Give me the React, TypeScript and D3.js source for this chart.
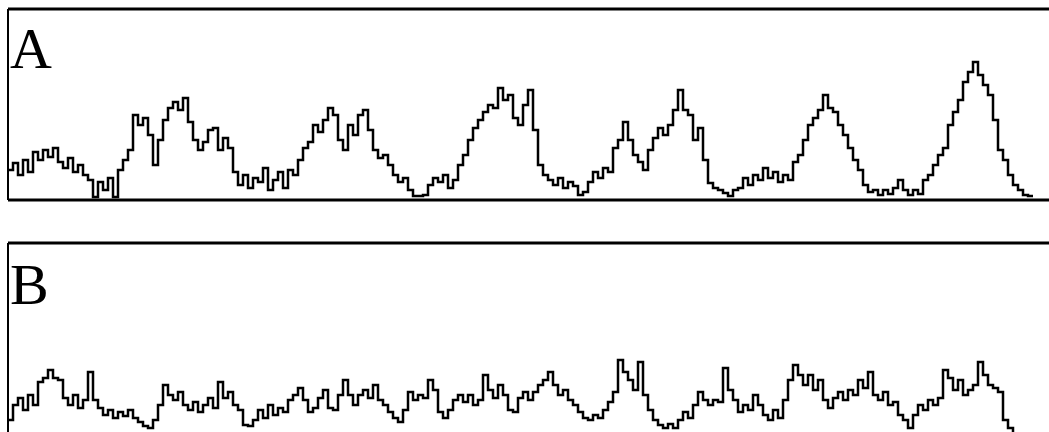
import { useEffect, useRef } from 'react';
import * as d3 from 'd3';

// trace heights above each panel's baseline, one sample per 5px bin
const traceA = [
  28, 35, 23, 38, 26, 46, 38, 48, 41, 50, 36, 30, 40, 26, 33, 23, 18, 1, 16, 8,
  20, 1, 28, 38, 48, 83, 73, 80, 63, 33, 58, 78, 90, 96, 88, 100, 76, 58, 48, 56,
  68, 70, 48, 60, 50, 26, 13, 23, 10, 20, 16, 30, 8, 18, 26, 10, 28, 23, 38, 50,
  56, 73, 66, 78, 90, 83, 58, 48, 73, 63, 83, 88, 68, 48, 40, 43, 33, 23, 16, 20,
  8, 2, 2, 3, 13, 20, 16, 23, 10, 18, 33, 43, 58, 70, 78, 86, 93, 90, 110, 98,
  103, 80, 73, 93, 108, 68, 33, 23, 18, 13, 20, 10, 16, 12, 3, 6, 16, 26, 20, 30,
  26, 50, 58, 76, 58, 43, 36, 28, 48, 60, 70, 63, 73, 88, 108, 88, 83, 58, 70, 38,
  15, 10, 8, 5, 2, 8, 10, 20, 13, 23, 18, 30, 20, 26, 16, 23, 18, 36, 43, 58,
  73, 80, 88, 103, 90, 86, 73, 63, 50, 38, 28, 13, 6, 8, 3, 8, 4, 10, 18, 8,
  3, 8, 4, 18, 23, 33, 43, 50, 73, 86, 98, 116, 126, 136, 123, 113, 103, 78, 48, 38,
  23, 13, 8, 3, 2, 2,
];

const traceB = [
  12, 27, 34, 22, 37, 27, 50, 54, 62, 54, 52, 34, 27, 37, 24, 32, 60, 32, 24, 17,
  22, 14, 20, 16, 22, 14, 10, 6, 4, 12, 27, 47, 37, 32, 40, 27, 22, 30, 20, 27,
  34, 24, 50, 34, 40, 27, 22, 7, 6, 12, 22, 14, 27, 17, 24, 20, 32, 37, 44, 32,
  20, 24, 34, 42, 24, 22, 37, 52, 37, 27, 37, 42, 34, 47, 32, 27, 20, 14, 10, 22,
  40, 32, 37, 34, 52, 42, 20, 14, 22, 32, 37, 30, 37, 27, 32, 57, 42, 34, 47, 37,
  22, 20, 34, 40, 32, 40, 47, 52, 60, 47, 37, 42, 32, 27, 20, 14, 12, 17, 14, 22,
  30, 40, 72, 60, 52, 42, 70, 37, 22, 12, 7, 4, 8, 4, 12, 20, 14, 27, 40, 32,
  27, 32, 30, 64, 42, 32, 20, 27, 22, 37, 27, 17, 12, 22, 14, 32, 52, 67, 57, 47,
  57, 42, 52, 32, 24, 34, 40, 32, 42, 37, 52, 44, 60, 37, 32, 40, 27, 30, 17, 12,
  4, 17, 27, 22, 32, 27, 34, 62, 54, 42, 52, 37, 42, 47, 70, 57, 47, 44, 40, 12,
  4, 0,
];

const panelLabels = ['A', 'B'];

const W = 1049;
const H = 432;
const BIN = 5;
const X0 = 8;

const App = () => {
  const svgRef = useRef<SVGSVGElement>(null);

  useEffect(() => {
    const svg = d3.select(svgRef.current);
    svg.selectAll('*').remove();

    const panels = [
      { data: traceA, top: 9, base: 198, frameBottom: 200, label: panelLabels[0], labelY: 68 },
      { data: traceB, top: 243, base: 432, frameBottom: null, label: panelLabels[1], labelY: 304 },
    ];

    panels.forEach(p => {
      const g = svg.append('g');
      const x = d3.scaleLinear().domain([0, p.data.length]).range([X0, X0 + BIN * p.data.length]);
      const y = d3.scaleLinear().domain([0, p.base - p.top]).range([p.base, p.top]);

      const line = d3.line<number>()
        .x((d, i) => x(i))
        .y(d => y(d))
        .curve(d3.curveStepAfter);

      g.append('path')
        .datum(p.data)
        .attr('fill', 'none')
        .attr('stroke', '#000')
        .attr('stroke-width', 2.5)
        .attr('d', line);

      // frame
      g.append('line')
        .attr('x1', X0).attr('x2', W)
        .attr('y1', p.top).attr('y2', p.top)
        .attr('stroke', '#000').attr('stroke-width', 3);
      g.append('line')
        .attr('x1', X0).attr('x2', X0)
        .attr('y1', p.top).attr('y2', p.frameBottom ?? H)
        .attr('stroke', '#000').attr('stroke-width', 2);
      if (p.frameBottom != null) {
        g.append('line')
          .attr('x1', X0).attr('x2', W)
          .attr('y1', p.frameBottom).attr('y2', p.frameBottom)
          .attr('stroke', '#000').attr('stroke-width', 3);
      }

      g.append('text')
        .attr('x', 10)
        .attr('y', p.labelY)
        .style('font-family', '"Liberation Serif", "DejaVu Serif", serif')
        .style('font-size', '58px')
        .text(p.label);
    });
  }, []);

  return (
    <svg
      ref={svgRef}
      width={W}
      height={H}
      style={{ position: 'absolute', left: 0, top: 0, background: '#fff', display: 'block' }}
    />
  );
};

export default App;
